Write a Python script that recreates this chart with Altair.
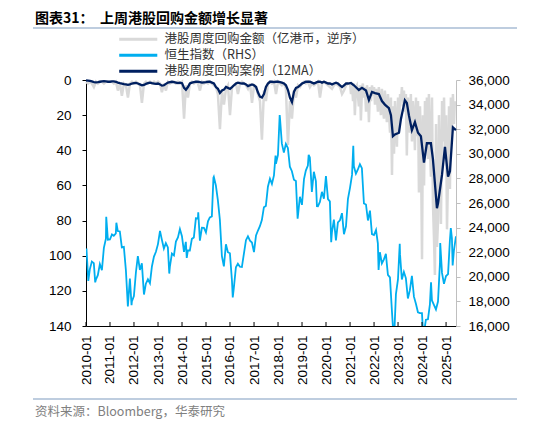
import altair as alt
import pandas as pd

# ---------------- data ----------------
LBL_BB = "港股周度回购金额（亿港币，逆序）"
LBL_HSI = "恒生指数（RHS）"
LBL_MA = "港股周度回购案例（12MA）"

# weekly buyback amount (100m HKD), monthly samples 2010-01 .. 2020-12
bb_early = [
    1, 2, 1, 2, 4, 1, 2, 1, 1, 2, 1, 1,
    1, 1, 2, 1, 6, 2, 9, 2, 3, 10, 2, 1,
    2, 1, 2, 3, 13, 2, 1, 2, 1, 2, 1, 2,
    1, 2, 7, 2, 6, 1, 2, 1, 1, 2, 1, 2,
    1, 22, 3, 10, 2, 1, 2, 1, 2, 6, 1, 2,
    1, 2, 1, 2, 3, 4, 8, 28, 6, 14, 5, 3,
    20, 4, 3, 2, 8, 2, 1, 2, 3, 5, 2, 13,
    3, 4, 8, 12, 34, 6, 12, 2, 1, 2, 1, 8,
    1, 2, 3, 2, 5, 37, 12, 22, 6, 10, 3, 4,
    2, 1, 2, 1, 4, 2, 3, 2, 1, 10, 2, 1,
    2, 3, 4, 5, 3, 2, 3, 4, 8, 6, 3, 2,
]
# semi-monthly samples 2021-01 .. 2025-05
bb_late = [
    2, 8, 3, 12, 2, 20, 4, 3, 9, 15, 3, 23, 5, 2, 10, 4, 18, 3, 8, 24, 4, 12, 3, 9,
    4, 14, 5, 10, 18, 4, 12, 20, 5, 16, 22, 6, 15, 24, 8, 18, 30, 10, 54, 15, 42, 12, 25, 38,
    10, 30, 8, 12, 4, 15, 6, 18, 8, 43, 10, 25, 30, 8, 35, 12, 22, 40, 10, 32, 12, 64, 15, 35,
    102, 20, 60, 12, 40, 10, 45, 8, 38, 55, 10, 70, 90, 111, 25, 95, 80, 20, 50, 82, 12, 35, 10, 45,
    20, 85, 50, 15, 62, 10, 30, 8, 25, 12,
]

# buyback cases 12MA, monthly 2010-01 .. 2020-12
ma_early = [
    0.2, 0.3, 0.5, 0.8, 1.2, 1.3, 1.2, 1.0, 0.8, 0.7, 0.8, 1.0,
    1.0, 0.8, 0.8, 1.0, 1.5, 1.8, 2.0, 2.3, 2.5, 2.8, 2.5, 2.0,
    1.8, 1.6, 2.0, 2.5, 3.0, 2.8, 2.2, 1.8, 1.5, 1.8, 2.0, 2.2,
    2.0, 2.5, 3.2, 3.0, 2.2, 1.5, 1.2, 1.0, 1.2, 1.5, 1.8, 1.5,
    1.8, 4.5, 5.5, 4.0, 2.0, 1.5, 1.2, 1.0, 1.0, 1.2, 1.5, 1.3,
    1.2, 1.0, 1.0, 1.5, 2.0, 4.0, 5.0, 7.4, 6.0, 5.5, 4.0, 4.5,
    5.0, 4.0, 3.0, 2.0, 1.5, 1.8, 2.0, 2.0, 2.5, 3.5, 3.0, 2.5,
    3.0, 4.0, 7.0, 9.5, 10.0, 8.0, 4.0, 2.0, 1.0, 1.0, 1.2, 1.0,
    1.0, 1.2, 1.5, 2.0, 3.0, 5.7, 10.0, 12.5, 6.6, 4.5, 4.0, 3.0,
    2.0, 1.5, 1.0, 1.0, 1.0, 1.5, 2.0, 1.5, 1.0, 1.0, 1.5, 1.0,
    1.5, 2.0, 2.0, 2.5, 2.0, 1.5, 2.0, 3.0, 4.0, 3.0, 2.0, 2.0,
]
ma_late_dates = [
    "2021-01-15", "2021-03-01", "2021-05-15", "2021-07-01", "2021-09-01", "2021-10-15",
    "2021-12-01", "2022-01-15", "2022-03-15", "2022-05-01", "2022-06-15", "2022-08-15",
    "2022-09-15", "2022-10-15", "2022-11-15", "2023-01-15", "2023-02-15", "2023-04-15",
    "2023-05-15", "2023-06-15", "2023-07-31", "2023-09-15", "2023-11-01", "2023-12-15",
    "2024-01-31", "2024-03-15", "2024-05-15", "2024-06-15", "2024-08-15", "2024-09-01",
    "2024-10-31", "2024-12-15", "2025-01-31", "2025-03-01", "2025-04-15", "2025-05-31",
]
ma_late = [
    1.7, 3.0, 5.7, 4.5, 6.0, 11.4,
    6.8, 7.5, 8.0, 12.0, 14.0, 16.0,
    20.0, 32.0, 31.0, 30.0, 22.0, 11.5,
    13.0, 20.0, 28.5, 24.0, 30.0, 32.0,
    47.0, 36.0, 36.0, 45.0, 73.0, 70.0,
    54.0, 38.0, 55.0, 52.0, 27.0, 28.5,
]

# Hang Seng Index, month-end 2010-01 .. 2025-05
hsi_month = [
    20122, 20609, 21239, 21108, 19765, 20129, 21030, 20537, 22358, 23096, 23008, 23035,
    23447, 23338, 23528, 23720, 23684, 22398, 22440, 20535, 17592, 19864, 17989, 18434,
    20390, 21680, 20556, 21094, 18629, 19441, 19796, 19482, 20840, 21641, 22030, 22657,
    23730, 23020, 22300, 22737, 22392, 20803, 21883, 21731, 22859, 23206, 23881, 23306,
    22035, 22837, 22151, 22133, 23082, 23191, 24757, 24742, 22933, 23998, 23987, 23605,
    24507, 24823, 24901, 28133, 27424, 26250, 24636, 21670, 20846, 22640, 21996, 21914,
    19683, 19112, 20777, 21067, 20815, 20794, 21891, 22977, 23297, 22935, 22790, 22001,
    23361, 23741, 24112, 24615, 25661, 25765, 27324, 27970, 27554, 28246, 29177, 29919,
    32887, 30845, 30093, 30808, 30469, 28955, 28583, 27889, 27789, 24980, 26507, 25846,
    27942, 28633, 29051, 29699, 26901, 28543, 27778, 25725, 26092, 26907, 26346, 28190,
    26313, 26130, 23603, 24644, 22961, 24427, 24595, 25177, 23459, 24107, 26341, 27231,
    28284, 28980, 28378, 28725, 29152, 28828, 25961, 25879, 24576, 25377, 23475, 23398,
    23802, 22713, 21997, 21089, 21415, 21860, 20157, 19954, 17223, 14687, 18597, 19781,
    21842, 19786, 20400, 19895, 18234, 18916, 20079, 18382, 17810, 17112, 17042, 17047,
    15485, 16511, 16541, 17763, 18080, 17719, 17345, 17989, 21134, 20317, 19423, 20060,
    20225, 22941, 23120, 22119, 23290,
]
hsi_extra_dates = [
    "2010-01-08", "2010-02-05", "2010-05-21", "2010-11-05", "2011-04-08", "2011-11-25",
    "2012-06-01", "2013-06-21", "2014-03-14", "2014-09-05", "2015-04-24", "2016-02-12",
    "2017-11-24", "2018-01-26", "2018-10-26", "2019-04-12", "2019-08-16", "2020-03-20",
    "2021-02-19", "2022-03-11", "2022-10-28", "2023-01-27", "2024-01-19", "2024-05-17",
    "2024-10-04", "2025-03-14", "2025-04-11",
]
hsi_extra = [
    22297, 19665, 19550, 24876, 24396, 17689,
    18558, 20263, 21540, 25240, 28061, 18320,
    29866, 33154, 24718, 29910, 25734, 22805,
    30644, 20554, 14863, 22689, 15309, 19554,
    22737, 23959, 20915,
]

years = list(range(2010, 2026))
left_ticks = [0, 20, 40, 60, 80, 100, 120, 140]
right_ticks = list(range(16000, 36001, 2000))

# ---------------- tables ----------------
bb_dates = list(pd.date_range("2010-01-01", periods=len(bb_early), freq="MS")) + \
    list(pd.date_range("2021-01-01", "2025-05-31", freq="SMS"))
bb_vals = bb_early + bb_late
n_bb = min(len(bb_dates), len(bb_vals))
bb_df = pd.DataFrame({"date": bb_dates[:n_bb], "v": bb_vals[:n_bb], "s": LBL_BB})

ma_dates = list(pd.date_range("2010-01-01", periods=len(ma_early), freq="MS")) + \
    list(pd.to_datetime(ma_late_dates))
ma_df = pd.DataFrame({"date": ma_dates, "v": ma_early + ma_late, "s": LBL_MA})

hsi_dates = list(pd.date_range("2010-01-01", periods=len(hsi_month), freq="MS") + pd.offsets.MonthEnd(0)) + \
    list(pd.to_datetime(hsi_extra_dates))
hsi_df = pd.DataFrame({"date": hsi_dates, "h": hsi_month + hsi_extra, "s": LBL_HSI}).sort_values("date")

tick_df = pd.DataFrame({"date": pd.to_datetime([f"{y}-01-01" for y in years])})
one = pd.DataFrame({"a": [0]})

W, H = 370, 246
FONT_NUM = "Liberation Sans, Arial, Noto Sans CJK SC"
FONT_CJK = "Noto Sans CJK SC, Liberation Sans"

x_enc = alt.X(
    "date:T",
    scale=alt.Scale(domain=[alt.DateTime(year=2010, month=1, date=1),
                            alt.DateTime(year=2025, month=6, date=1)]),
    axis=alt.Axis(
        values=[alt.DateTime(year=y, month=1, date=1) for y in years],
        format="%Y-%m", labelAngle=-90, labelAlign="right", labelBaseline="middle",
        ticks=False, labelPadding=9, title=None, grid=False,
        domainColor="#000000", labelColor="#000000", labelFontSize=13.5,
        labelFont=FONT_NUM, labelOverlap=False,
    ),
)

left_axis = alt.Axis(
    values=left_ticks, title=None, grid=False, domainColor="#000000",
    tickColor="#000000", tickSize=4, labelPadding=11, labelFontSize=13.5,
    labelColor="#000000", labelFont=FONT_NUM,
)
left_scale = alt.Scale(domain=[0, 140], reverse=True, nice=False)

color_scale = alt.Scale(domain=[LBL_BB, LBL_HSI, LBL_MA],
                        range=["#d9d9d9", "#00aeef", "#002060"])
# long horizontal stroke drawn by a small symbol (keeps rows tight)
legend = alt.Legend(orient="none", legendX=46, legendY=-47, title=None,
                    symbolType="M-5,0H5", symbolSize=58, symbolStrokeWidth=3,
                    labelFontSize=12.5, labelFont=FONT_CJK, labelColor="#333333",
                    labelOffset=20, rowPadding=3, padding=0, labelLimit=400)
color_enc = alt.Color("s:N", scale=color_scale, legend=legend)

gray = alt.Chart(bb_df).mark_line(strokeWidth=2.5).encode(
    x=x_enc,
    y=alt.Y("v:Q", scale=left_scale, axis=left_axis),
    color=color_enc,
)
navy = alt.Chart(ma_df).mark_line(strokeWidth=2.3).encode(
    x=x_enc,
    y=alt.Y("v:Q", scale=left_scale, axis=left_axis),
    color=color_enc,
)
left = alt.layer(gray, navy)

hsi = alt.Chart(hsi_df).mark_line(strokeWidth=1.8, clip=True).encode(
    x=x_enc,
    y=alt.Y("h:Q", scale=alt.Scale(domain=[16000, 36000], nice=False, zero=False),
            axis=alt.Axis(orient="right", values=right_ticks,
                          labelExpr="format(datum.value, ',')", title=None,
                          grid=False, domainColor="#bfbfbf", tickColor="#bfbfbf",
                          tickSize=4, labelPadding=8, labelFontSize=13.5,
                          labelColor="#000000", labelFont=FONT_NUM)),
    color=color_enc,
)

xticks = alt.Chart(tick_df).mark_rule(color="#000000", strokeWidth=1).encode(
    x=x_enc, y=alt.value(H - 4), y2=alt.value(H),
)

title_txt = alt.Chart(one).mark_text(
    align="left", baseline="middle", fontSize=14, fontWeight="bold",
    font=FONT_CJK, color="#000000",
).encode(x=alt.value(-51), y=alt.value(-61),
         text=alt.value("图表31：\u00a0\u00a0上周港股回购金额增长显著"))

rule_top = alt.Chart(one).mark_rule(color="#a9bcd5", strokeWidth=1.5).encode(
    x=alt.value(-53), x2=alt.value(431), y=alt.value(-52))
rule_bot = alt.Chart(one).mark_rule(color="#a9bcd5", strokeWidth=1.5).encode(
    x=alt.value(-53), x2=alt.value(431), y=alt.value(319))

source_txt = alt.Chart(one).mark_text(
    align="left", baseline="middle", fontSize=12.5, font=FONT_CJK, color="#808080",
).encode(x=alt.value(-51), y=alt.value(332),
         text=alt.value("资料来源：Bloomberg，华泰研究"))

chart = alt.layer(left, hsi, xticks, title_txt, rule_top, rule_bot, source_txt).resolve_scale(
    y="independent"
).properties(
    width=W, height=H,
    padding={"left": 78, "top": 72, "right": 70, "bottom": 96},
    autosize=alt.AutoSizeParams(type="none"),
).configure_view(stroke=None)

chart.save("out.html", embed_options={"renderer": "svg", "actions": False})
